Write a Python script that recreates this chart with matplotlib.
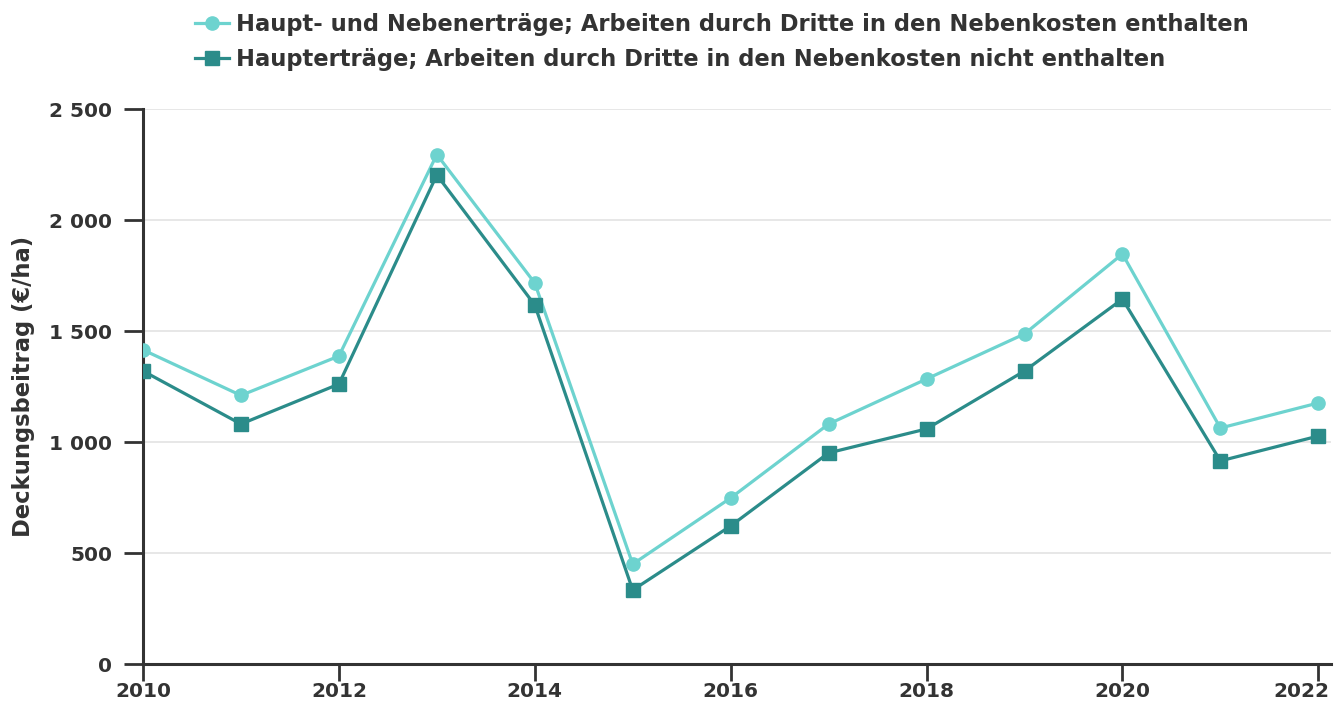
import matplotlib.pyplot as plt
from matplotlib.transforms import ScaledTranslation

jahre = [2010, 2011, 2012, 2013, 2014, 2015, 2016, 2017, 2018, 2019, 2020, 2021, 2022]
# Haupt- und Nebenertraege
haupt_neben = [1415, 1210, 1387, 2295, 1716, 450, 748, 1081, 1284, 1487, 1847, 1063, 1176]
# nur Hauptertraege
haupt = [1320, 1081, 1261, 2203, 1617, 333, 622, 951, 1059, 1320, 1644, 915, 1027]

label1 = 'Haupt- und Nebenerträge; Arbeiten durch Dritte in den Nebenkosten enthalten'
label2 = 'Haupterträge; Arbeiten durch Dritte in den Nebenkosten nicht enthalten'
yticks = [0, 500, 1000, 1500, 2000, 2500]
xticks = [2010, 2012, 2014, 2016, 2018, 2020, 2022]

hell = '#6dd3cf'
dunkel = '#2b8c8a'
textfarbe = '#333333'

plt.rcParams['font.family'] = 'DejaVu Sans'
plt.rcParams['font.weight'] = 'bold'

fig = plt.figure(figsize=(13.34, 7.02), dpi=100)
ax = fig.add_axes([0.1072, 0.0541, 0.8906, 0.7906])

ax.plot(jahre, haupt_neben, color=hell, lw=2.3, marker='o', markersize=9.5, label=label1, zorder=3)
ax.plot(jahre, haupt, color=dunkel, lw=2.3, marker='s', markersize=9.5, label=label2, zorder=3)

ax.set_ylim(0, 2500)
ax.set_xlim(2010, 2022.13)
ax.set_yticks(yticks)
ax.set_yticklabels([f'{v:,}'.replace(',', ' ') for v in yticks])
ax.set_xticks(xticks)
ax.grid(axis='y', color='#e3e3e3', lw=1.2)
ax.set_axisbelow(True)

for s in ['top', 'right']:
    ax.spines[s].set_visible(False)
for s in ['left', 'bottom']:
    ax.spines[s].set_linewidth(2.2)
    ax.spines[s].set_color(textfarbe)
ax.tick_params(axis='both', width=2, color=textfarbe, labelsize=14.5, labelcolor=textfarbe)
ax.tick_params(axis='y', length=14, pad=8)
ax.tick_params(axis='x', length=12, pad=1)

# letztes Jahr nach links schieben, damit es reinpasst
last = ax.get_xticklabels()[-1]
last.set_ha('right')
last.set_transform(last.get_transform() + ScaledTranslation(8 / 72, 0, fig.dpi_scale_trans))

ax.set_ylabel('Deckungsbeitrag (€/ha)', fontsize=16.3, fontweight='bold', color=textfarbe)
ax.yaxis.set_label_coords(-0.091, 0.5)

leg = fig.legend(loc='upper left', bbox_to_anchor=(0.146, 0.981), frameon=False, fontsize=16.3,
                 handlelength=1.5, handletextpad=0.3, labelspacing=0.52,
                 borderpad=0, borderaxespad=0)
for t in leg.get_texts():
    t.set_color(textfarbe)

plt.savefig('out.png', dpi=100)
